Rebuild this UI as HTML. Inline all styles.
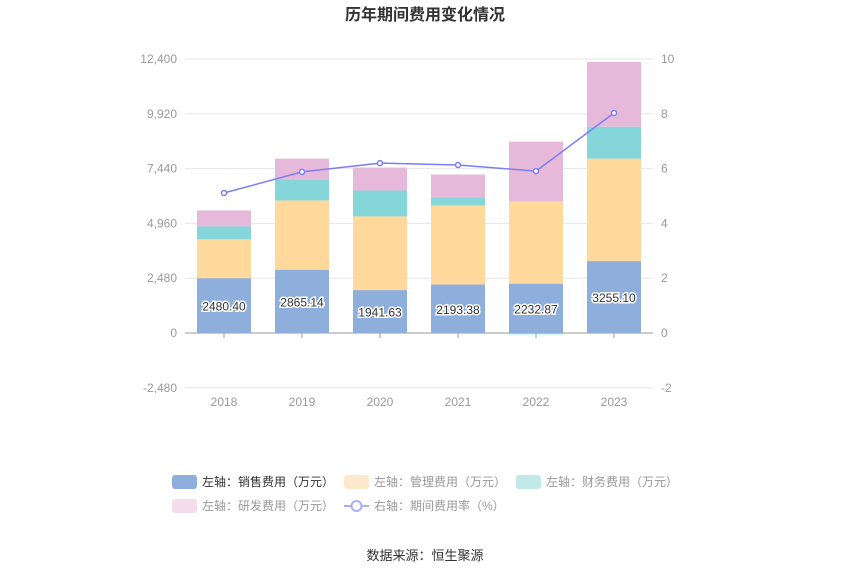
<!DOCTYPE html>
<html><head><meta charset="utf-8"><style>
body{margin:0;background:#fff;font-family:"Liberation Sans","Noto Sans CJK SC",sans-serif}
</style></head><body>
<svg id="c" width="850" height="574" xmlns="http://www.w3.org/2000/svg" style="font-family:'Liberation Sans','Noto Sans CJK SC',sans-serif">
<text x="425" y="20" text-anchor="middle" font-size="16" font-weight="bold" fill="#333">历年期间费用变化情况</text>
<g id="grid"></g><g id="bars"></g><g id="line"></g><g id="labels"></g>
<g id="legend" font-size="12">
<g><rect x="172" y="475" width="25" height="14" rx="3" fill="#8eaedb"/><text x="202" y="486" fill="#333">左轴：销售费用（万元）</text></g>
<g><rect x="344" y="475" width="25" height="14" rx="3" fill="#fee9cc"/><text x="374" y="486" fill="#999">左轴：管理费用（万元）</text></g>
<g><rect x="516" y="475" width="25" height="14" rx="3" fill="#c2e9ea"/><text x="546" y="486" fill="#999">左轴：财务费用（万元）</text></g>
<g><rect x="172" y="499" width="25" height="14" rx="3" fill="#f4dced"/><text x="202" y="510" fill="#999">左轴：研发费用（万元）</text></g>
<g><line x1="344" y1="506" x2="369" y2="506" stroke="#aab0f7" stroke-width="2"/><circle cx="356.5" cy="506" r="5" fill="#fff" stroke="#aab0f7" stroke-width="2"/><text x="374" y="510" fill="#999">右轴：期间费用率（%）</text></g>
</g>
<text x="425" y="560" text-anchor="middle" font-size="13" fill="#333">数据来源：恒生聚源</text>
</svg>
<script>
const years=["2018","2019","2020","2021","2022","2023"];
const sales=[2480.40,2865.14,1941.63,2193.38,2232.87,3255.10];
const mgmt=[1760,3133,3335,3580,3720,4637];
const fin=[586,945,1173,361,-60,1444];
const rd=[720,947,1037,1037,2706,2931];
const rate=[5.11,5.88,6.2,6.13,5.91,8.03];
const leftTicks=[-2480,0,2480,4960,7440,9920,12400];
const rightTicks=[-2,0,2,4,6,8,10];
const NS="http://www.w3.org/2000/svg";
const x0=185,x1=653,band=(x1-x0)/years.length,bw=54;
const yL=v=>333-v*(274/12400);
const yR=v=>333-v*27.4;
const xc=i=>x0+band*(i+0.5);
function mk(p,t,a){const e=document.createElementNS(NS,t);for(const k in a)e.setAttribute(k,a[k]);document.getElementById(p).appendChild(e);return e;}
leftTicks.forEach((v,i)=>{
 const g=mk('grid','line',{x1:x0,x2:x1,y1:yL(v),y2:yL(v),stroke:'#e6e6e6'});
 
 
 const t=mk('grid','text',{x:177,y:yL(v)+4,'text-anchor':'end','font-size':12,fill:'#999'});
 t.textContent=v.toLocaleString('en-US');
 
 
});
rightTicks.forEach(v=>{
 const t=mk('grid','text',{x:661,y:yR(v)+4,'font-size':12,fill:'#999'});
 t.textContent=v;
 
 
});
const ax=mk('grid','line',{x1:x0,x2:x1,y1:yL(0),y2:yL(0),stroke:'#999'});


years.forEach((y,i)=>{
 const tk=mk('grid','line',{x1:xc(i),x2:xc(i),y1:333,y2:338,stroke:'#999'});
 
 
 const t=mk('grid','text',{x:xc(i),y:406,'text-anchor':'middle','font-size':12,fill:'#999'});
 t.textContent=y;
 
 
 let pos=0,neg=0;
 [[sales,'#8eaedb','bar-sales'],[mgmt,'#fed99b','bar-management'],[fin,'#85d6d9','bar-finance'],[rd,'#e6b9da','bar-rd']].forEach(([arr,c,n])=>{
  const v=arr[i];let a,b;
  if(v>=0){a=pos;b=pos+v;pos=b;}else{a=neg;b=neg+v;neg=b;}
  const r=mk('bars','rect',{x:xc(i)-bw/2,y:Math.min(yL(a),yL(b)),width:bw,height:Math.abs(yL(a)-yL(b)),fill:c});
  
  
 });
 const l=mk('labels','text',{x:xc(i),y:(yL(0)+yL(sales[i]))/2+5,'text-anchor':'middle','font-size':12,fill:'#333',stroke:'#fff','stroke-width':3,'paint-order':'stroke'});
 l.textContent=sales[i].toFixed(2);
 
 
});
const pl=mk('line','polyline',{points:rate.map((v,i)=>xc(i)+','+yR(v)).join(' '),fill:'none',stroke:'#7b7ef5','stroke-width':1.5});


rate.forEach((v,i)=>{
 const c=mk('line','circle',{cx:xc(i),cy:yR(v),r:2.5,fill:'#fff',stroke:'#7b7ef5','stroke-width':1.5});
 
 
});
</script>
</body></html>
